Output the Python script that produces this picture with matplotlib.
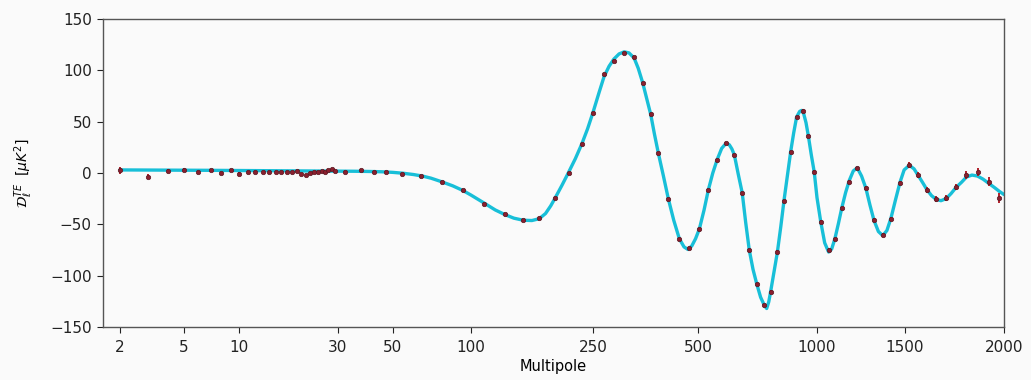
import numpy as np
import matplotlib
matplotlib.use("Agg")
import matplotlib.pyplot as plt

# ---------------- data ----------------
# model curve
curve_ell = [2, 4, 7, 10, 15, 20, 25, 30, 35, 40, 45, 50, 55, 60, 65, 70, 77, 85, 93, 100,
             110, 120, 129, 138, 148, 158, 167, 175, 182, 188, 198, 208, 219, 230, 240, 250,
             260, 269, 278, 287, 297, 307, 317, 328, 337, 347, 356, 366, 375, 385, 398, 411,
             426, 442, 456, 468, 480, 492, 504, 518, 531, 545, 559, 574, 589, 600, 609, 618,
             632, 647, 660, 674, 689, 704, 720, 736, 746, 755, 763, 778, 794, 810, 825, 842,
             858, 873, 888, 904, 915, 925, 938, 951, 967, 984, 1000, 1017, 1036, 1055, 1070,
             1086, 1104, 1121, 1141, 1161, 1182, 1204, 1228, 1253, 1276, 1300, 1327, 1354,
             1380, 1406, 1436, 1466, 1494, 1519, 1540, 1556, 1578, 1598, 1620, 1641, 1665,
             1690, 1715, 1740, 1768, 1793, 1822, 1852, 1882, 1913, 1944, 1974, 2000]
curve_D = [3.0, 2.8, 2.6, 2.4, 2.2, 2.0, 1.9, 1.8, 1.7, 1.5, 1.2, 0.6, -0.3, -1.5, -3.0, -5.0,
           -8.5, -12.5, -17, -21.5, -29, -36, -40.5, -44, -46, -46.3, -44.5, -39.5, -32, -24.5,
           -12, 0.5, 14, 28.5, 43, 59, 78, 94, 104, 111, 116, 118, 117, 112, 102, 88, 73, 57,
           38, 19, -3, -25, -46, -64, -72, -74.5, -71, -64, -54.5, -36, -16.5, 0, 13, 24, 29,
           27.5, 23.5, 17.5, -1, -19.5, -48, -75, -94, -108, -121, -129, -132, -125.5, -116,
           -97, -77, -52, -27, -2, 21, 39, 54.5, 60, 61, 58, 49, 36, 18, 1, -24, -47, -68, -77,
           -74, -64, -49, -34, -19, -7, 2, 5, -3, -15, -31, -46, -57, -61, -56, -44, -26, -9,
           3, 7.5, 4, -1.5, -9, -16, -22, -25.5, -27, -25, -20, -14, -9, -4, -2, -3, -6, -10,
           -14, -18, -21]

# measured band powers
data_ell = list(range(2, 30)) + [32, 37, 42, 47, 54, 64, 77, 93, 110, 129, 148, 167, 188, 208,
                                 230, 250, 269, 287, 307, 328, 347, 366, 385, 411, 442, 472,
                                 504, 531, 559, 589, 618, 647, 674, 704, 736, 763, 794, 825,
                                 858, 888, 920, 951, 984, 1017, 1055, 1086, 1121, 1161, 1204,
                                 1253, 1300, 1354, 1406, 1466, 1519, 1556, 1598, 1641, 1690,
                                 1740, 1793, 1852, 1913, 1974]
data_D = [2.5, -3.5, 2, 3, 0.5, 2.5, 0, 2.5, -0.5, 1, 1, 1, 0.5, 0.5, 0.5, 1, 1, 2, -1, -1.5,
          0, 1, 0.5, 2, 1, 3, 3.5, 2,
          1.3, 2.9, 1.0, 1.0, -1, -3, -8.8, -16.6, -30, -40, -45.8, -44.1, -24, 0.3,
          28.2, 58.2, 96.1, 109.1, 117.2, 113.3, 88, 57.5, 19.2, -25.3, -64.6, -73,
          -54.5, -16.6, 12.7, 28.9, 17.5, -19.2, -75, -108.1, -128.6, -115.6, -76.6, -27.3,
          20.7, 54.3, 60.4, 36, 1.3, -47.4, -75, -64.6, -34.4, -8.5, 4.6,
          -14.9, -45.8, -60.4, -45.1, -9.4, 7.8, -2, -16.6, -25.6, -24.6,
          -13.3, -2, 1.3, -8.5, -24.6]
data_err = [3.5, 2.5, 1.5, 1.5, 1.2, 1.2, 1.0, 1.0, 1.0, 1.0, 1.0, 1.0, 1.0, 1.0, 1.0, 1.0,
            1.0, 1.0, 1.0, 1.0, 1.0, 1.0, 1.0, 1.0, 1.0, 1.0, 1.0, 1.0,
            1.0, 1.0, 1.0, 1.0, 1.0, 1.0, 1.0, 1.0, 1.0, 1.0, 1.0, 1.0, 1.0, 1.0,
            1.0, 1.0, 1.0, 1.0, 1.0, 1.0, 1.0, 1.0, 1.0, 1.0, 1.0, 1.0,
            1.0, 1.0, 1.0, 1.0, 1.0, 1.0, 1.0, 1.2, 1.2, 1.2, 1.2, 1.2,
            1.2, 1.5, 1.5, 1.5, 1.5, 1.5, 1.5, 1.5, 1.5, 1.5, 1.5,
            2, 2, 2, 2, 2, 2.5, 2.5, 2.5, 3, 3,
            3, 3.5, 4, 4.5, 5]

tick_ell = [2, 5, 10, 30, 50, 100, 250, 500, 1000, 1500, 2000]
tick_labels = ["2", "5", "10", "30", "50", "100", "250", "500", "1000", "1500", "2000"]
y_ticks = [-150, -100, -50, 0, 50, 100, 150]

# ---------------- custom multipole scale ----------------
_scale_ell = [1, 2, 5, 10, 30, 50, 100, 250, 500, 1000, 1500, 2000, 3000]
_scale_pos = [71.6, 120, 184, 239, 338, 393, 471, 593, 698, 817, 905, 1004, 1143.5]
_logs = np.log10(_scale_ell)


def fwd(x):
    x = np.asarray(x, dtype=float)
    lx = np.log10(np.clip(x, 1e-3, None))
    return np.interp(lx, _logs, _scale_pos)


def inv(p):
    p = np.asarray(p, dtype=float)
    return 10 ** np.interp(p, _scale_pos, _logs)


# ---------------- figure ----------------
W, H = 1031, 380
fig = plt.figure(figsize=(W / 100, H / 100), dpi=100, facecolor="#fafafa")
ax = fig.add_axes([103 / W, 1 - 327 / H, (1004 - 103) / W, (327 - 19) / H])
ax.set_facecolor("#fafafa")
ax.set_xscale("function", functions=(fwd, inv))

ax.plot(curve_ell, curve_D, color="#18bfd8", lw=2.4, zorder=2, solid_capstyle="round")
ax.errorbar(data_ell, data_D, yerr=data_err, fmt="o", ms=3.2, color="#8a1f2e",
            mec="#5a1620", mew=0.5, ecolor="#b0202a", elinewidth=1.4, capsize=0, zorder=3)

ax.set_xlim(1.568, 2000)
ax.set_ylim(-150, 150)
ax.set_xticks(tick_ell)
ax.set_xticklabels(tick_labels)
ax.xaxis.set_minor_locator(matplotlib.ticker.NullLocator())
ax.set_yticks(y_ticks)
ax.tick_params(labelsize=11, colors="#222222", length=4.5)
ax.tick_params(axis="x", pad=5)
for s in ax.spines.values():
    s.set_color("#555555")
    s.set_linewidth(1.0)

ax.set_xlabel("Multipole", fontsize=10.5, labelpad=3)
ax.set_ylabel(r"$\mathcal{D}_\ell^{TE}$  [$\mu K^2$]", fontsize=10, labelpad=11)

fig.savefig("out.png", dpi=100, facecolor=fig.get_facecolor())
